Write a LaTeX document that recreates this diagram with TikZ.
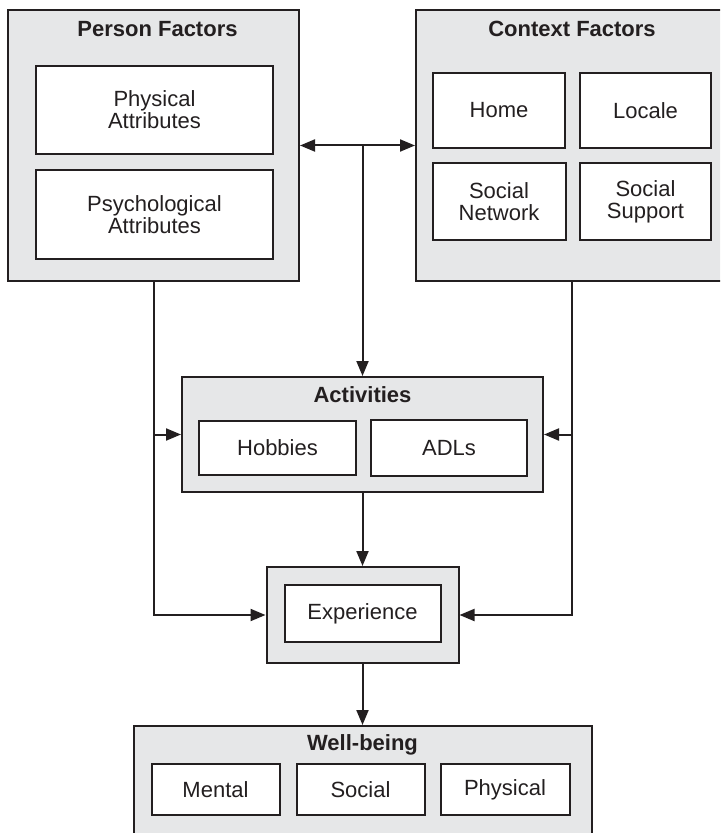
\documentclass[tikz,border=0pt]{standalone}
\usepackage{fontspec}
\setmainfont{Liberation Sans}
\usetikzlibrary{arrows.meta,positioning}

\definecolor{ink}{HTML}{231F20}
\definecolor{panel}{HTML}{E6E7E8}

\begin{document}
\begin{tikzpicture}[x=0.5pt, y=-0.5pt,
  group/.style={rectangle, draw=ink, fill=panel, line width=1pt, inner sep=0pt},
  block/.style={rectangle, draw=ink, fill=white, line width=1pt, inner sep=0pt, align=center, text=ink},
  heading/.style={font=\bfseries, text=ink},
  link/.style={draw=ink, line width=1pt},
  >={Triangle[length=7.5pt, width=6pt]},
  node distance=6.5pt]
  \fontsize{11}{11}\selectfont
    \useasboundingbox (0,0) rectangle (720,833);
    \clip (0,0) rectangle (720,833);

    % grey groups
    \node[group, minimum width=145.5pt, minimum height=135.5pt] (pf) at (153.5,145.5) {};
    \node[group, minimum width=156pt, minimum height=135.5pt] (cf) at (572,145.5) {};
    \node[group, minimum width=180.5pt, minimum height=57.5pt] (act) at (362.5,434.5) {};
    \node[group, minimum width=96pt, minimum height=48pt] (expg) at (362.5,615) {};
    \node[group, minimum width=229pt, minimum height=67pt] (wb) at (362.5,793) {};

    \node[heading] at ([xshift=2pt, yshift=-10pt]pf.north) {Person Factors};
    \node[heading] at ([yshift=-10pt]cf.north) {Context Factors};
    \node[heading] at ([yshift=-9.5pt]act.north) {Activities};
    \node[heading] at ([yshift=-10pt]wb.north) {Well-being};

    % person
    \node[block, minimum width=118.5pt, minimum height=44pt] (phys) at (154.5,110) {Physical\\Attributes};
    \node[block, minimum width=118.5pt, minimum height=44.5pt, below=7pt of phys] (psych) {Psychological\\Attributes};

    % context
    \node[block, minimum width=66pt, minimum height=37.5pt] (home) at (499,110.5) {Home};
    \node[block, minimum width=65.5pt, minimum height=37.5pt, right=of home] (locale) {Locale};
    \node[block, minimum width=66.5pt, minimum height=38.5pt, below=of home] (socnet) {Social\\Network};
    \node[block, minimum width=65.5pt, minimum height=38.5pt, below=of locale] (socsup) {Social\\Support};

    % activities
    \node[block, minimum width=78.5pt, minimum height=27pt] (hobbies) at (277.5,448) {\raisebox{-1.5pt}{Hobbies}};
    \node[block, minimum width=78pt, minimum height=28pt, right=of hobbies] (adls) {ADLs};

    % experience
    \node[block, minimum width=78pt, minimum height=28.5pt] (exp) at (362.5,613.5) {Experience};

    % well-being
    \node[block, minimum width=64pt, minimum height=25.5pt] (social) at (360.5,789.5) {\raisebox{-1.5pt}{Social}};
    \node[block, minimum width=64pt, minimum height=25.5pt, left=7.5pt of social] (mental) {\raisebox{-1.5pt}{Mental}};
    \node[block, minimum width=64.5pt, minimum height=25.5pt, right=7pt of social] (physical) {Physical};

    \coordinate (hub) at (act.north |- pf.east);

    \draw[link, <->] (pf.east) -- (cf.west);
    \draw[link, ->] (hub) -- (act.north);
    \draw[link, ->] (act.south) -- (expg.north);
    \draw[link, ->] (expg.south) -- (wb.north);

    \draw[link, ->] (pf.south) |- (expg.west);
    \draw[link, ->] (pf.south |- act.west) -- (act.west);
    \draw[link, ->] (cf.south) |- (expg.east);
    \draw[link, ->] (cf.south |- act.east) -- (act.east);

\end{tikzpicture}
\end{document}
